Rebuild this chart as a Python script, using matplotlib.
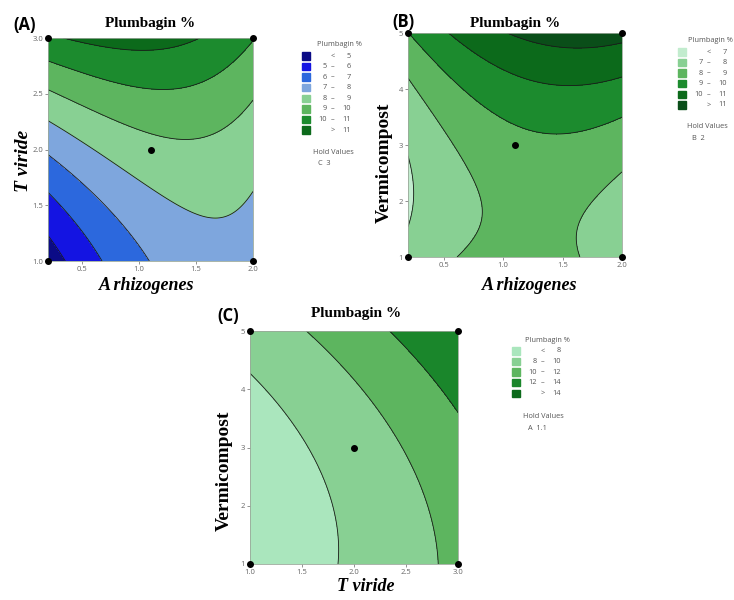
import numpy as np
import matplotlib
matplotlib.use("Agg")
import matplotlib.pyplot as plt
from matplotlib.patches import Rectangle

W, H = 734, 600

# points (x, y, level)
a_x = [0.2, 0.36, 0.2, 0.45, 0.67, 0.2, 0.655, 1.08,
       0.2, 0.655, 1.095, 1.418, 1.653, 2.0,
       0.2, 0.655, 1.095, 1.39, 1.68, 2.0,
       0.2, 0.655, 1.095, 1.39, 1.68, 2.0,
       0.33, 0.655, 0.95, 1.24, 1.51]
a_y = [1.245, 1.0, 1.62, 1.305, 1.0, 1.95, 1.54, 1.0,
       2.25, 1.933, 1.664, 1.485, 1.40, 1.61,
       2.53, 2.35, 2.17, 2.11, 2.14, 2.44,
       2.80, 2.665, 2.545, 2.53, 2.65, 2.99,
       3.0, 2.92, 2.875, 2.90, 3.0]
a_z = [5, 5, 6, 6, 6, 7, 7, 7,
       8, 8, 8, 8, 8, 8,
       9, 9, 9, 9, 9, 9,
       10, 10, 10, 10, 10, 10,
       11, 11, 11, 11, 11]

b_x = [0.2, 0.234, 0.2,
       0.2, 0.45, 0.584, 0.766, 0.73, 0.668, 2.0, 1.80, 1.65, 1.635,
       0.2, 0.64, 0.92, 1.285, 1.7, 2.0,
       0.556, 0.8, 1.06, 1.54, 2.0,
       1.03, 1.6, 2.0]
b_y = [2.61, 2.01, 1.476,
       4.18, 3.62, 3.08, 2.07, 1.5, 1.0, 2.55, 2.05, 1.42, 1.0,
       5.0, 4.04, 3.56, 3.35, 3.38, 3.56,
       5.0, 4.54, 4.18, 3.95, 4.1,
       5.0, 4.81, 4.84]
b_z = [7, 7, 7,
       8, 8, 8, 8, 8, 8, 8, 8, 8, 8,
       9, 9, 9, 9, 9, 9,
       10, 10, 10, 10, 10,
       11, 11, 11]

c_x = [1.0, 1.48, 1.80, 1.86, 1.83,
       1.546, 2.32, 2.73, 2.80,
       2.35, 2.77, 3.0]
c_y = [4.25, 3.30, 1.99, 1.47, 1.0,
       5.0, 3.30, 2.05, 1.0,
       5.0, 4.16, 3.59]
c_z = [8, 8, 8, 8, 8,
       10, 10, 10, 10,
       12, 12, 12]

# design points
a_px = [0.2, 0.2, 2.0, 2.0, 1.1]
a_py = [1, 3, 1, 3, 2]
b_px = [0.2, 0.2, 2.0, 2.0, 1.1]
b_py = [1, 5, 1, 5, 3]
c_px = [1, 1, 3, 3, 2]
c_py = [1, 5, 1, 5, 3]

a_levels = [5, 6, 7, 8, 9, 10, 11]
b_levels = [7, 8, 9, 10, 11]
c_levels = [8, 10, 12, 14]

a_colors = ['#0b0b86', '#1414e2', '#2c68dd', '#7ea6dd', '#88d093', '#5db55f', '#1c8b2e', '#0c6a1b']
b_colors = ['#c2ecce', '#88d093', '#5db55f', '#1c8b2e', '#0c6a1b', '#0a4e19']
c_colors = ['#aae6bd', '#88d093', '#5db55f', '#1a862b', '#0c6a1b']

a_hold = "C  3"
b_hold = "B  2"
c_hold = "A  1.1"

serif = "Liberation Serif"
sans = "Open Sans"
tick_col = '#666666'


def terms(x, y, deg):
    cols = [np.ones_like(x), x, y, x * x, y * y, x * y]
    if deg == 3:
        cols += [x ** 3, y ** 3, x * x * y, x * y * y]
    return np.column_stack([c.ravel() for c in cols])


def fit_surface(x, y, z, X, Y, deg):
    x, y, z = map(lambda v: np.asarray(v, float), (x, y, z))
    c, *_ = np.linalg.lstsq(terms(x, y, deg), z, rcond=None)
    return (terms(X, Y, deg) @ c).reshape(X.shape)


def fpos(x, y):
    return x / W, 1 - y / H


fig = plt.figure(figsize=(W / 100, H / 100), dpi=100)


def panel(rect, xr, yr, cx, cy, cz, deg, levels, colors, px, py, xt, xtl, yt, ytl):
    l, t, r, b = rect
    ax = fig.add_axes([l / W, 1 - b / H, (r - l) / W, (b - t) / H])
    gx = np.linspace(xr[0], xr[1], 300)
    gy = np.linspace(yr[0], yr[1], 300)
    X, Y = np.meshgrid(gx, gy)
    Z = fit_surface(cx, cy, cz, X, Y, deg)
    bounds = [-100] + list(levels) + [100]
    ax.contourf(X, Y, Z, levels=bounds, colors=colors)
    ax.contour(X, Y, Z, levels=levels, colors='#1a1a1a', linewidths=0.6)
    ax.plot(px, py, 'o', color='black', ms=4, clip_on=False, zorder=5)
    ax.set_xlim(xr)
    ax.set_ylim(yr)
    ax.set_xticks(xt)
    ax.set_xticklabels(xtl)
    ax.set_yticks(yt)
    ax.set_yticklabels(ytl)
    ax.tick_params(labelsize=5.5, colors=tick_col, length=2, width=0.5, pad=1.5)
    for lab in ax.get_xticklabels() + ax.get_yticklabels():
        lab.set_fontfamily(sans)
    for s in ax.spines.values():
        s.set_color('#9aa89a')
        s.set_linewidth(0.6)
    return ax


def legend(x0, y0, labels, colors, hold, title_x, hold_x, hold_y):
    # x0: left of squares, y0: first row centre (pixels)
    kw = dict(fontsize=5.3, color='#555555', family=sans, va='center')
    fig.text(*fpos(title_x, y0 - 11), "Plumbagin %", ha='left', **kw)
    for i, (lo, sym, hi) in enumerate(labels):
        yy = y0 + i * 10.6
        fig.patches.append(Rectangle(fpos(x0, yy + 3.6), 7.5 / W, 7.5 / H,
                                     transform=fig.transFigure, color=colors[i]))
        if lo:
            fig.text(*fpos(x0 + 24.5, yy), lo, ha='right', **kw)
        fig.text(*fpos(x0 + 31, yy), sym, ha='center', **kw)
        fig.text(*fpos(x0 + 49, yy), hi, ha='right', **kw)
    fig.text(*fpos(hold_x, hold_y), "Hold Values", ha='left', **kw)
    fig.text(*fpos(hold_x + 5, hold_y + 11), hold, ha='left', **kw)


def labels_for(levels):
    out = [("", "<", str(levels[0]))]
    for lo, hi in zip(levels[:-1], levels[1:]):
        out.append((str(lo), "\u2013", str(hi)))
    out.append(("", ">", str(levels[-1])))
    return out


xlab = dict(fontsize=13, family=serif, style='italic', weight='bold')
vlab = dict(fontsize=14, family=serif, weight='bold')
title_kw = dict(fontsize=11, family=serif, weight='bold', ha='center', va='center')
tag_kw = dict(fontsize=12, family=sans, weight='bold', ha='left', va='center')

# (A)
axA = panel((48, 38, 253, 261), (0.2, 2.0), (1.0, 3.0), a_x, a_y, a_z, 3, a_levels, a_colors,
            a_px, a_py, [0.5, 1.0, 1.5, 2.0], ["0.5", "1.0", "1.5", "2.0"],
            [1.0, 1.5, 2.0, 2.5, 3.0], ["1.0", "1.5", "2.0", "2.5", "3.0"])
axA.set_xlabel("A rhizogenes", **xlab)
axA.xaxis.set_label_coords(0.48, -0.072)
axA.set_ylabel("T viride", fontsize=14, family=serif, style='italic', weight='bold')
axA.yaxis.set_label_coords(-0.078, 0.45)
fig.text(*fpos(150, 23), "Plumbagin %", **title_kw)
fig.text(*fpos(13, 25), "(A)", **tag_kw)
legend(302, 56, labels_for(a_levels), a_colors, a_hold, 317, 313, 152)

# (B)
axB = panel((408, 33, 622, 257), (0.2, 2.0), (1.0, 5.0), b_x, b_y, b_z, 3, b_levels, b_colors,
            b_px, b_py, [0.5, 1.0, 1.5, 2.0], ["0.5", "1.0", "1.5", "2.0"],
            [1, 2, 3, 4, 5], ["1", "2", "3", "4", "5"])
axB.set_xlabel("A rhizogenes", **xlab)
axB.xaxis.set_label_coords(0.57, -0.089)
axB.set_ylabel("Vermicompost", **vlab)
axB.yaxis.set_label_coords(-0.07, 0.42)
fig.text(*fpos(515, 23), "Plumbagin %", **title_kw)
fig.text(*fpos(392, 22), "(B)", **tag_kw)
legend(678, 52, labels_for(b_levels), b_colors, b_hold, 688, 687, 127)

# (C)
axC = panel((250, 331, 458, 564), (1.0, 3.0), (1.0, 5.0), c_x, c_y, c_z, 2, c_levels[:3], c_colors[:4],
            c_px, c_py, [1.0, 1.5, 2.0, 2.5, 3.0], ["1.0", "1.5", "2.0", "2.5", "3.0"],
            [1, 2, 3, 4, 5], ["1", "2", "3", "4", "5"])
axC.set_xlabel("T viride", **xlab)
axC.xaxis.set_label_coords(0.557, -0.062)
axC.set_ylabel("Vermicompost", **vlab)
axC.yaxis.set_label_coords(-0.082, 0.40)
fig.text(*fpos(356, 314), "Plumbagin %", **title_kw)
fig.text(*fpos(217, 316), "(C)", **tag_kw)
legend(512, 351, labels_for(c_levels), c_colors, c_hold, 525, 523, 417)

fig.savefig("out.png", dpi=100)
